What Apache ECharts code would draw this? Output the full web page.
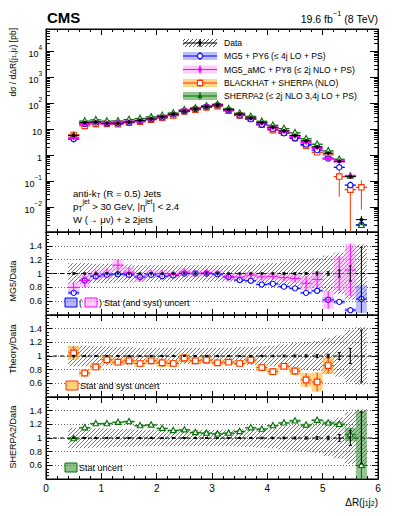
<!DOCTYPE html>
<html><head><meta charset="utf-8"><title>dR(j1,j2)</title>
<script src="https://cdn.jsdelivr.net/npm/echarts@6.0.0/dist/echarts.min.js"></script>
<style>html,body{margin:0;padding:0;background:#fff;}#chart{width:399px;height:516px;}</style>
</head><body><div id="chart"></div>
<script>
// ---------------- data ----------------
const binCenters = [0.5,0.7,0.9,1.1,1.3,1.5,1.7,1.9,2.1,2.3,2.5,2.7,2.9,3.1,3.3,3.5,3.7,3.9,4.1,4.3,4.5,4.7,4.9,5.1,5.3,5.5,5.7];
const binHalfWidth = 0.1;

const dataXsec    = [5.8,18,19,17,17,19,22,25,30,38,50,61,74,86,57,38,27,18,12,8.7,5.8,3.6,2.1,1.2,0.58,0.15,0.0033];
const dataStatRel = [0.01,0.008,0.008,0.008,0.008,0.008,0.008,0.008,0.008,0.008,0.008,0.008,0.008,0.008,0.008,0.008,0.008,0.01,0.01,0.012,0.014,0.016,0.02,0.025,0.05,0.11,0.38];
const dataTotRel  = [0.15,0.15,0.14,0.14,0.13,0.13,0.12,0.12,0.12,0.12,0.12,0.12,0.12,0.12,0.12,0.13,0.13,0.14,0.15,0.17,0.19,0.2,0.22,0.26,0.3,0.38,0.42];

const mg5Xsec    = [4.18,16.2,18.2,16.7,16.8,18.6,20.9,24.5,28.8,36.9,50,61,74,85.1,54.2,34.4,24.2,15.1,10.2,7.05,4.55,2.59,1.58,0.744,0.342,0.0705,0.00208];
const amcXsec    = [4.64,16.2,18.5,17,19.0,19.4,20.7,25,30,37.4,51,61,74.7,86,54.2,36.1,26.3,17.1,11.5,8.18,5.39,3.1,1.92,0.744,0.58,0.158,null];
const bhXsec     = [6.06,13.5,16.0,16.1,15.5,17.7,19.6,23.3,27,33.8,48.5,56.7,69.6,77.4,51.9,33.8,25.4,14.9,9.24,7.4,4.52,2.34,1.3,1.03,0.15,0.047,0.058];
const bhXsecErr  = [0.6,0.7,0.8,1.0,0.8,0.9,1.0,1.2,1.6,1.9,3.0,2.8,3.5,3.1,2.1,1.4,1.3,0.8,0.5,0.4,0.3,0.35,0.3,0.14,0.125,0.05,0.05];
const sherpaXsec = [5.74,20.7,23,20.6,20.9,23.6,26,29.8,34.2,42.2,56,65.9,79.2,91.2,61,41.6,31.1,20.3,14.2,10.6,7.25,4.28,2.65,1.46,0.70,0.158,0.002];

const mg5Ratio      = [0.72,0.90,0.96,0.98,0.99,0.98,0.95,0.98,0.96,0.97,1.00,1.00,1.00,0.99,0.95,0.905,0.895,0.84,0.85,0.81,0.785,0.72,0.75,0.62,0.59,0.47,0.63];
const mg5RatioErr   = [0.03,0.02,0.02,0.02,0.02,0.02,0.02,0.02,0.02,0.02,0.02,0.02,0.02,0.02,0.02,0.02,0.02,0.02,0.02,0.02,0.02,0.02,0.02,0.04,0.03,0.03,0.2];
const amcRatio      = [0.80,0.90,0.975,1.00,1.12,1.02,0.94,1.00,1.00,0.985,1.02,1.00,1.01,1.00,0.95,0.95,0.975,0.95,0.96,0.94,0.93,0.86,0.915,0.62,1.00,1.05,null];
const amcRatioErr   = [0.07,0.1,0.07,0.07,0.08,0.07,0.06,0.05,0.05,0.05,0.05,0.05,0.05,0.05,0.05,0.05,0.05,0.05,0.05,0.05,0.06,0.1,0.12,0.13,0.25,0.38,null];
const bhRatio       = [1.045,0.75,0.84,0.945,0.91,0.93,0.89,0.93,0.90,0.89,0.97,0.93,0.94,0.90,0.91,0.89,0.94,0.83,0.77,0.85,0.78,0.65,0.62,0.86,null,null,null];
const bhRatioErr    = [0.1,0.05,0.05,0.06,0.05,0.05,0.05,0.05,0.06,0.05,0.06,0.05,0.05,0.04,0.04,0.04,0.05,0.05,0.05,0.05,0.06,0.1,0.14,0.12,null,null,null];
const sherpaRatio   = [0.99,1.15,1.21,1.21,1.23,1.24,1.18,1.19,1.14,1.11,1.12,1.08,1.07,1.06,1.07,1.095,1.15,1.13,1.18,1.22,1.25,1.19,1.26,1.22,1.20,1.05,0.60];
const sherpaRatioErr= [0.02,0.015,0.015,0.015,0.015,0.015,0.015,0.015,0.015,0.015,0.015,0.015,0.015,0.015,0.015,0.015,0.015,0.015,0.015,0.015,0.02,0.02,0.02,0.02,0.03,0.1,0.8];

const xTickLabels     = [0,1,2,3,4,5,6];
const logTickLabels   = [0.01,0.1,1,10,100,1000,10000];
const ratioTickLabels = [0.6,0.8,1,1.2,1.4];
const legendLabels = ['Data','MG5 + PY6 (\u2264 4j LO + PS)','MG5_aMC + PY8 (\u2264 2j NLO + PS)','BLACKHAT + SHERPA (NLO)','SHERPA2 (\u2264 2j NLO 3,4j LO + PS)'];

// ---------------- style ----------------
const FONT = '"Liberation Sans", Arial, Helvetica, sans-serif';
const LOG_MIN = 0.0011, LOG_MAX = 73000;
const C = {
  mg5:'#0000ff', mg5Band:'rgba(110,110,255,0.45)',
  amc:'#ff00ff', amcBand:'rgba(255,140,255,0.45)',
  bh:'#ff3300',  bhBand:'rgba(255,185,50,0.6)',
  sh:'#007000',  shBand:'rgba(40,140,40,0.5)'
};
const logMinorTicks = [];
for (let e=-3;e<=4;e++) for (let m=2;m<=9;m++){ const v=+(m*Math.pow(10,e)).toPrecision(3); if(v>LOG_MIN&&v<LOG_MAX) logMinorTicks.push(v); }

function hatchLines(x0,y0,x1,y1,sp,stroke,lw){
  const out=[]; const start=Math.ceil((x0+y0)/sp)*sp;
  for(let k=start;k<=x1+y1;k+=sp){
    const xa=Math.max(x0,k-y1), xb=Math.min(x1,k-y0);
    if(xb>xa) out.push({type:'line',shape:{x1:xa,y1:k-xa,x2:xb,y2:k-xb},style:{stroke:stroke,lineWidth:lw}});
  }
  return out;
}
function marker(kind,cx,cy,color,s){
  switch(kind){
    case 'circle': return {type:'circle',shape:{cx,cy,r:s},style:{fill:'#fff',stroke:color,lineWidth:1.1}};
    case 'dot': return {type:'circle',shape:{cx,cy,r:s},style:{fill:color}};
    case 'square': return {type:'rect',shape:{x:cx-s,y:cy-s,width:2*s,height:2*s},style:{fill:'#fff',stroke:color,lineWidth:1.1}};
    case 'triangle': return {type:'polygon',shape:{points:[[cx,cy-s*1.15],[cx+s,cy+s*0.75],[cx-s,cy+s*0.75]]},style:{fill:'#fff',stroke:color,lineWidth:1.1}};
    case 'triangleFilled': return {type:'polygon',shape:{points:[[cx,cy-s*1.15],[cx+s,cy+s*0.75],[cx-s,cy+s*0.75]]},style:{fill:color}};
    case 'diamond': return {type:'polygon',shape:{points:[[cx,cy-s*1.3],[cx+s*0.8,cy],[cx,cy+s*1.3],[cx-s*0.8,cy]]},style:{fill:color}};
  }
}
function rowsAbs(vals,errs){ const o=[]; binCenters.forEach((x,i)=>{ if(vals[i]!=null) o.push([x,vals[i],errs?errs[i]:0]); }); return o; }
function rowsConst(c,errs){ return binCenters.map((x,i)=>[x,c,errs[i]]); }

function yIdx(gi){ return gi===0?0:2+2*gi; }

function pointSeries(gi,rows,o){
  return {type:'custom',xAxisIndex:2*gi,yAxisIndex:yIdx(gi),clip:true,silent:true,z:o.z,data:rows,
    renderItem:function(p,api){
      const x=api.value(0), y=api.value(1), e=api.value(2)||0;
      const hi=y+e, lo=(o.log&&y-e<=0)?y*1e-4:y-e;
      const c=api.coord([x,y]);
      const l=api.coord([x-binHalfWidth,y]), r=api.coord([x+binHalfWidth,y]);
      const t=api.coord([x,hi]), b=api.coord([x,lo]);
      const ch=[];
      if(o.band){
        ch.push({type:'rect',shape:{x:l[0],y:t[1],width:r[0]-l[0],height:b[1]-t[1]},style:{fill:o.band}});
        return {type:'group',children:ch};
      }
      if(o.hatch){
        return {type:'group',children:hatchLines(l[0],t[1],r[0],b[1],4,'#3a3a3a',0.7)};
      }
      if(o.hline!==false) ch.push({type:'line',shape:{x1:l[0],y1:c[1],x2:r[0],y2:c[1]},style:{stroke:o.color,lineWidth:o.lw||1}});
      if(b[1]-t[1]>0.5) ch.push({type:'line',shape:{x1:c[0],y1:t[1],x2:c[0],y2:b[1]},style:{stroke:o.color,lineWidth:o.vlw||1}});
      if(o.caps){
        ch.push({type:'line',shape:{x1:c[0]-1.5,y1:t[1],x2:c[0]+1.5,y2:t[1]},style:{stroke:o.color,lineWidth:1}});
        ch.push({type:'line',shape:{x1:c[0]-1.5,y1:b[1],x2:c[0]+1.5,y2:b[1]},style:{stroke:o.color,lineWidth:1}});
      }
      if(o.marker) ch.push(marker(o.marker,c[0],c[1],o.color,o.size||2.5));
      return {type:'group',children:ch};
    }};
}
function refLine(gi){
  return {type:'line',xAxisIndex:2*gi,yAxisIndex:yIdx(gi),data:[[0,1],[6,1]],symbol:'none',silent:true,z:2,
    lineStyle:{color:'#000',width:1,type:[4,3]}};
}

// ---------------- layout ----------------
const L=46, R=21;
const gridDefs=[{top:29,height:203},{top:232,height:83},{top:315,height:82},{top:397,height:82}];
const grids=gridDefs.map(g=>({left:L,right:R,top:g.top,height:g.height,show:true,borderColor:'#000',borderWidth:1,backgroundColor:'transparent'}));

const xAxes=[];
gridDefs.forEach((g,gi)=>{
  ['bottom','top'].forEach(pos=>{
    xAxes.push({type:'value',gridIndex:gi,position:pos,min:0,max:6,interval:1,
      axisLine:{show:true,onZero:false,lineStyle:{color:'#000',width:1}},
      axisTick:{show:true,inside:true,length:6,lineStyle:{color:'#000',width:1}},
      minorTick:{show:true,splitNumber:5,length:3,lineStyle:{color:'#000',width:1}},
      axisLabel:{show:gi===3&&pos==='bottom',customValues:xTickLabels,fontSize:10,fontFamily:FONT,color:'#000',margin:4},
      splitLine:{show:false}});
  });
});

const richLbl={b:{fontSize:9,fontFamily:FONT,color:'#000',lineHeight:14,verticalAlign:'bottom'},
               s:{fontSize:6.5,fontFamily:FONT,color:'#000',lineHeight:8,verticalAlign:'top'}};
function logFmt(v){ const e=Math.round(Math.log10(v)); if(e===0) return '{b|1}'; if(e===1) return '{b|10}'; return '{b|10}{s|'+(e<0?'\u2212'+(-e):e)+'}'; }

const yAxes=[];
['left','right'].forEach(pos=>{
  yAxes.push({type:'log',gridIndex:0,position:pos,min:LOG_MIN,max:LOG_MAX,
    axisLine:{show:true,onZero:false,lineStyle:{color:'#000'}},
    axisTick:{show:true,inside:true,length:8,customValues:logTickLabels,lineStyle:{color:'#000'}},
    minorTick:{show:false},
    axisLabel:{show:pos==='left',customValues:logTickLabels,formatter:logFmt,rich:richLbl,margin:4,fontSize:9,fontFamily:FONT,color:'#000'},
    splitLine:{show:false}});
  yAxes.push({type:'log',gridIndex:0,position:pos,min:LOG_MIN,max:LOG_MAX,
    axisLine:{show:false,onZero:false},
    axisTick:{show:true,inside:true,length:4,customValues:logMinorTicks,lineStyle:{color:'#000'}},
    minorTick:{show:false},axisLabel:{show:false},splitLine:{show:false}});
});
[1,2,3].forEach(gi=>{
  ['left','right'].forEach(pos=>{
    yAxes.push({type:'value',gridIndex:gi,position:pos,min:0.4,max:1.6,interval:0.2,
      axisLine:{show:true,onZero:false,lineStyle:{color:'#000'}},
      axisTick:{show:true,inside:true,length:6,lineStyle:{color:'#000'}},
      minorTick:{show:true,splitNumber:4,length:3,lineStyle:{color:'#000'}},
      axisLabel:{show:pos==='left',customValues:ratioTickLabels,margin:4,fontSize:9,fontFamily:FONT,color:'#000',
        formatter:v=>Math.abs(v-1)<1e-9?'1':(+v).toFixed(1)},
      splitLine:{show:pos==='left',lineStyle:{type:[1,2],color:'#666',width:1}}});
  });
});

// ---------------- series ----------------
const series=[
  // top panel
  pointSeries(0,rowsAbs(bhXsec,bhXsecErr),{color:C.bh,marker:'square',size:2.7,log:true,lw:1.3,z:4}),
  pointSeries(0,rowsAbs(mg5Xsec),{color:C.mg5,marker:'circle',size:2.7,log:true,lw:1.3,z:5}),
  pointSeries(0,rowsAbs(sherpaXsec),{color:C.sh,marker:'triangle',size:2.9,log:true,lw:1.3,z:6}),
  pointSeries(0,rowsAbs(amcXsec),{color:C.amc,marker:'diamond',size:2.3,log:true,lw:2.4,z:7}),
  pointSeries(0,binCenters.map((x,i)=>[x,dataXsec[i],dataXsec[i]*dataStatRel[i]]),{color:'#000',marker:'dot',size:1.9,log:true,lw:1,z:8}),

  // ratio panel 1 : MG5 / data
  pointSeries(1,rowsConst(1,dataTotRel),{hatch:true,z:1}),
  refLine(1),
  pointSeries(1,rowsAbs(mg5Ratio,mg5RatioErr),{band:C.mg5Band,z:3}),
  pointSeries(1,rowsAbs(amcRatio,amcRatioErr),{band:C.amcBand,z:3}),
  pointSeries(1,rowsAbs(mg5Ratio,mg5RatioErr),{color:C.mg5,marker:'circle',size:2.6,z:5}),
  pointSeries(1,rowsAbs(amcRatio,amcRatioErr),{color:C.amc,z:5}),
  pointSeries(1,rowsConst(1,dataStatRel),{color:'#000',marker:'dot',size:0.9,hline:false,caps:true,z:6}),

  // ratio panel 2 : BLACKHAT / data
  pointSeries(2,rowsConst(1,dataTotRel),{hatch:true,z:1}),
  refLine(2),
  pointSeries(2,rowsAbs(bhRatio,bhRatioErr),{band:C.bhBand,z:3}),
  pointSeries(2,rowsAbs(bhRatio,bhRatioErr),{color:C.bh,marker:'square',size:2.8,z:5}),
  pointSeries(2,rowsConst(1,dataStatRel),{color:'#000',marker:'dot',size:0.9,hline:false,caps:true,z:6}),

  // ratio panel 3 : SHERPA2 / data
  pointSeries(3,rowsConst(1,dataTotRel),{hatch:true,z:1}),
  refLine(3),
  pointSeries(3,rowsAbs(sherpaRatio,sherpaRatioErr),{band:C.shBand,z:3}),
  pointSeries(3,rowsAbs(sherpaRatio,sherpaRatioErr),{color:C.sh,marker:'triangle',size:2.8,z:5}),
  pointSeries(3,rowsConst(1,dataStatRel),{color:'#000',marker:'dot',size:0.9,hline:false,caps:true,z:6})
];

// ---------------- texts & legends ----------------
const rich={n:{fontSize:9.5,fontFamily:FONT,fill:'#000',lineHeight:13,verticalAlign:'bottom'},
            sp:{fontSize:6.5,fontFamily:FONT,fill:'#000',lineHeight:7,verticalAlign:'top'},
            sb:{fontSize:6.5,fontFamily:FONT,fill:'#000',lineHeight:7,verticalAlign:'bottom'}};
function rtext(x,y,txt,opt){
  opt=opt||{};
  const fs=opt.fs||9.5;
  const r={n:Object.assign({},rich.n,{fontSize:fs,lineHeight:fs+4}),sp:Object.assign({},rich.sp,{fontSize:fs*0.7}),sb:Object.assign({},rich.sb,{fontSize:fs*0.7})};
  return {type:'text',x:x,y:y,rotation:opt.rot||0,silent:true,z:100,
    style:{text:txt,rich:r,fontFamily:FONT,fontSize:fs,fill:'#000',align:opt.align||'left',verticalAlign:'middle'}};
}
function ptext(x,y,txt,fs,extra){
  return {type:'text',x:x,y:y,silent:true,z:100,style:Object.assign({text:txt,fontFamily:FONT,fontSize:fs,fill:'#000',align:'left',verticalAlign:'middle'},extra||{})};
}

const els=[];
els.push(ptext(47,17.5,'CMS',15,{fontWeight:'bold'}));
els.push(rtext(378,17,'{n|19.6 fb}{sp|\u22121}{n| (8 TeV)}',{fs:10.5,align:'right'}));
els.push(rtext(11,28,'{n|d\u03c3 / d\u0394R(j}{sb|1}{n|,j}{sb|2}{n|) [pb]}',{fs:8.5,align:'right',rot:Math.PI/2}));
els.push(rtext(11,281,'{n|MG5/Data}',{fs:9,align:'center',rot:Math.PI/2}));
els.push(rtext(11,349,'{n|Theory/Data}',{fs:9,align:'center',rot:Math.PI/2}));
els.push(rtext(11,437,'{n|SHERPA2/Data}',{fs:9,align:'center',rot:Math.PI/2}));
els.push(rtext(378,500,'{n|\u0394R(j}{sb|1}{n|j}{sb|2}{n|)}',{fs:10,align:'right'}));
els.push(rtext(73,192,'{n|anti-k}{sb|T}{n| (R = 0.5) Jets}',{fs:9.6}));
els.push(rtext(73,205,'{n|p}{sb|T}{sp|jet}{n| > 30 GeV, |\u03b7}{sp|jet}{n|| < 2.4}',{fs:9.6}));
els.push(rtext(73,218,'{n|W (\u2192 \u03bc\u03bd) + \u2265 2jets}',{fs:9.6}));

// top legend
const legY=[43,56,69.5,83,96];
const legSym=[
  {kind:'data'},
  {color:C.mg5,band:C.mg5Band,marker:'circle'},
  {color:C.amc,band:C.amcBand,marker:'diamond'},
  {color:C.bh,band:C.bhBand,marker:'square'},
  {color:C.sh,band:C.shBand,marker:'triangleFilled'}
];
legSym.forEach((s,i)=>{
  const y=legY[i], x0=183, x1=217, xc=200;
  const ch=[];
  if(s.kind==='data'){
    hatchLines(x0,y-4,x1,y+4,4,'#222',0.8).forEach(l=>ch.push(l));
    ch.push({type:'line',shape:{x1:x0,y1:y,x2:x1,y2:y},style:{stroke:'#000',lineWidth:1}});
    ch.push({type:'line',shape:{x1:xc,y1:y-4,x2:xc,y2:y+4},style:{stroke:'#000',lineWidth:1}});
    ch.push(marker('diamond',xc,y,'#000',2.4));
  } else {
    ch.push({type:'rect',shape:{x:x0,y:y-4,width:x1-x0,height:8},style:{fill:s.band}});
    ch.push({type:'line',shape:{x1:x0,y1:y,x2:x1,y2:y},style:{stroke:s.color,lineWidth:1.2}});
    ch.push({type:'line',shape:{x1:xc,y1:y-4,x2:xc,y2:y+4},style:{stroke:s.color,lineWidth:1}});
    ch.push(marker(s.marker,xc,y,s.color,2.6));
  }
  els.push({type:'group',silent:true,z:90,children:ch});
  els.push(ptext(224,y,legendLabels[i],8.6));
});

// ratio legends
els.push({type:'rect',silent:true,z:90,shape:{x:65,y:298,width:12,height:9},style:{fill:'rgba(110,110,255,0.5)',stroke:C.mg5,lineWidth:1}});
els.push(ptext(79,303,'(',9));
els.push({type:'rect',silent:true,z:90,shape:{x:85,y:298,width:12,height:9},style:{fill:'rgba(255,160,255,0.5)',stroke:C.amc,lineWidth:1}});
els.push(ptext(99,303,')',9));
els.push(ptext(104,303,'Stat (and syst) uncert',9));
els.push({type:'rect',silent:true,z:90,shape:{x:66,y:381,width:12,height:9},style:{fill:'rgba(255,200,90,0.8)',stroke:C.bh,lineWidth:1}});
els.push(ptext(80,386,'Stat and syst uncert',9));
els.push({type:'rect',silent:true,z:90,shape:{x:65,y:463,width:12,height:9},style:{fill:'rgba(60,150,60,0.6)',stroke:C.sh,lineWidth:1}});
els.push(ptext(79,467.5,'Stat uncert',9));

const chart=echarts.init(document.getElementById('chart'),null,{renderer:'svg',width:399,height:516});
chart.setOption({
  animation:false,
  backgroundColor:'#fff',
  grid:grids,
  xAxis:xAxes,
  yAxis:yAxes,
  series:series,
  graphic:{elements:els}
});
</script></body></html>
